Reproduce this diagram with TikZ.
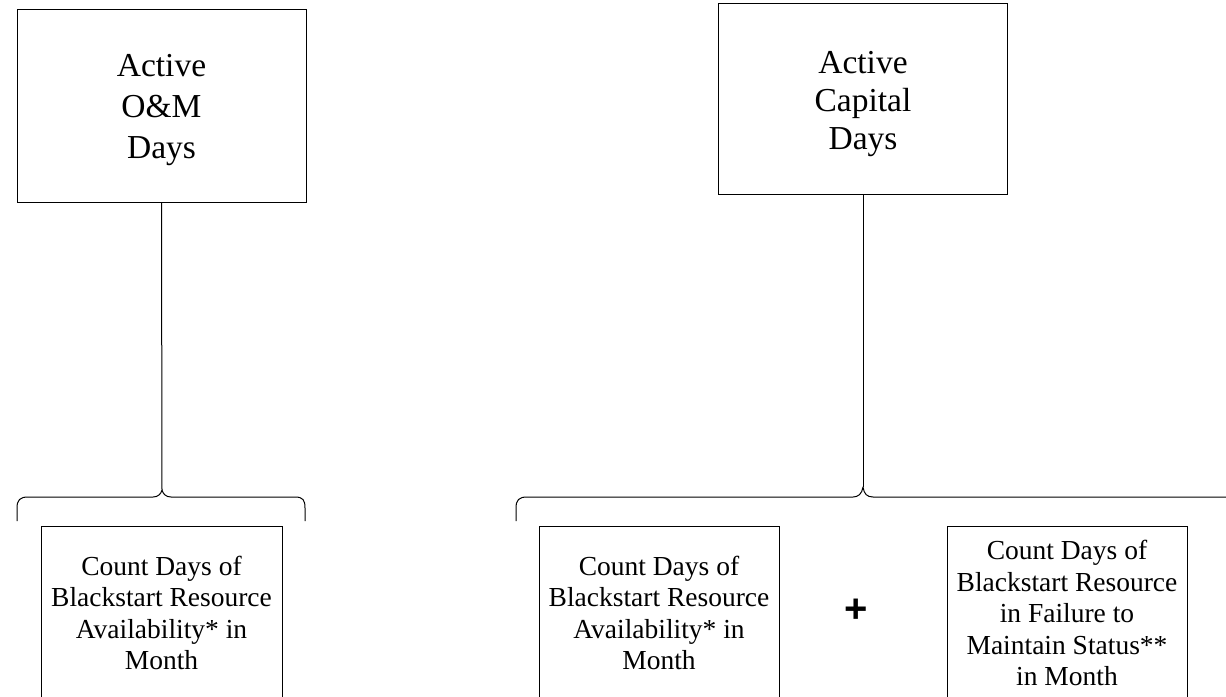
\documentclass[tikz,border=0pt]{standalone}
\usepackage{fontspec}
\setmainfont{Liberation Serif}
\newfontfamily\plusfont{Liberation Sans}
\begin{document}
\begin{tikzpicture}[x=1pt,y=-1pt,
  line width=1pt,
  topbox/.style={draw, minimum width=289pt, minimum height=193pt, inner sep=0pt},
  toptext/.style={align=center, inner sep=0pt},
  botbox/.style={draw, minimum width=241pt, minimum height=174pt, align=center, inner sep=0pt,
    font=\fontsize{27.5pt}{31.5pt}\selectfont},
  brace/.style={line width=1pt, line join=round}]
\useasboundingbox (0,0) rectangle (1226,696);
\clip (0,0) rectangle (1226,696);
% top boxes
\node[topbox] (om) at (161.5,105.5) {};
\node[toptext, font=\fontsize{33.5pt}{41pt}\selectfont] (omtext) at ([yshift=-5pt]om.center) {Active\\O\&M\\Days};
\node[topbox, minimum height=191pt] (cap) at (863,98.5) {};
\node[toptext, font=\fontsize{33.5pt}{38pt}\selectfont] (captext) at ([yshift=-6pt]cap.center) {Active\\Capital\\Days};
% bottom boxes
\node[botbox] (b1) at (161.5,613) {Count Days of\\Blackstart Resource\\Availability* in\\Month};
\node[botbox, minimum width=240pt] (b2) at (659,613) {Count Days of\\Blackstart Resource\\Availability* in\\Month};
\node[botbox, minimum width=240pt] (b3) at (1067,613) {Count Days of\\Blackstart Resource\\in Failure to\\Maintain Status**\\in Month};
\node[font=\plusfont\bfseries\fontsize{40pt}{40pt}\selectfont, inner sep=0pt] (plus) at (856.5,610.5) {+};
% braces
\coordinate (tipL) at (162,490);
\coordinate (tipR) at (863,487);
\draw[brace] (17,521) -- (17,508) .. controls (17,500) and (20,497) .. (28,497)
  -- (153,497) .. controls (158,497) and (161,494) .. (tipL)
  .. controls (163,494) and (166,497) .. (171,497)
  -- (295,497) .. controls (303,497) and (305,500) .. (305,508) -- (305,521);
\draw[brace] (516,521) -- (516,508) .. controls (516,500) and (519,497) .. (527,497)
  -- (853,497) .. controls (858,497) and (862,494) .. (tipR)
  .. controls (864,494) and (867,497) .. (873,497)
  -- (1240,497);
% connectors
\draw (om.south) -- (tipL);
\draw (cap.south) -- (tipR);
\end{tikzpicture}
\end{document}
